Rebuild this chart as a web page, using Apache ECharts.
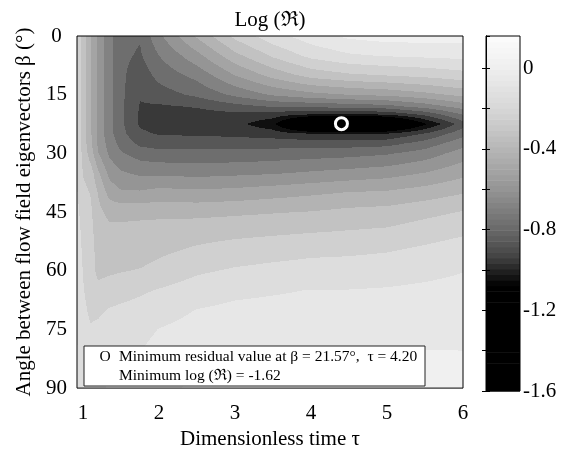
<!DOCTYPE html>
<html><head><meta charset="utf-8">
<script src="https://cdn.jsdelivr.net/npm/echarts@6/dist/echarts.min.js"></script>
<style>html,body{margin:0;padding:0;background:#fff;overflow:hidden}#c{width:567px;height:455px}</style>
</head><body><div id="c"></div>
<script>
// ---- grid nodes (tau = dimensionless time, beta = angle in degrees) ----
const tauNodes  = [0.92, 1.0, 1.1, 1.2, 1.35, 1.5, 1.75, 2.0, 2.5, 3.0, 3.5, 4.0, 4.5, 5.0, 5.5, 6.0];
const betaNodes = [0, 5, 10, 15, 18, 20, 22.5, 25, 27.5, 30, 35, 40, 45, 50, 55, 60, 65, 70, 75, 80, 85, 90];

// ---- log(R) values, one array per tau column, listed along betaNodes ----
const logR_t092 = [-0.22,-0.22,-0.22,-0.22,-0.22,-0.22,-0.22,-0.22,-0.21,-0.21,-0.20,-0.19,-0.17,-0.16,-0.15,-0.14,-0.13,-0.12,-0.11,-0.10,-0.10,-0.10];
const logR_t100 = [-0.33,-0.33,-0.33,-0.33,-0.33,-0.33,-0.33,-0.33,-0.32,-0.31,-0.29,-0.26,-0.24,-0.22,-0.21,-0.20,-0.19,-0.18,-0.17,-0.16,-0.16,-0.16];
const logR_t110 = [-0.45,-0.45,-0.45,-0.45,-0.45,-0.45,-0.45,-0.45,-0.44,-0.42,-0.33,-0.29,-0.27,-0.26,-0.25,-0.25,-0.23,-0.21,-0.19,-0.18,-0.17,-0.17];
const logR_t120 = [-0.57,-0.58,-0.58,-0.58,-0.58,-0.58,-0.58,-0.58,-0.57,-0.55,-0.45,-0.38,-0.35,-0.33,-0.32,-0.31,-0.26,-0.21,-0.18,-0.15,-0.13,-0.12];
const logR_t135 = [-0.70,-0.70,-0.70,-0.70,-0.70,-0.70,-0.70,-0.70,-0.68,-0.66,-0.58,-0.50,-0.40,-0.35,-0.33,-0.30,-0.24,-0.19,-0.15,-0.13,-0.11,-0.10];
const logR_t150 = [-0.80,-0.80,-0.80,-0.80,-0.80,-0.80,-0.80,-0.79,-0.76,-0.72,-0.63,-0.54,-0.40,-0.35,-0.33,-0.29,-0.23,-0.18,-0.14,-0.12,-0.105,-0.09];
const logR_t175 = [-0.81,-0.83,-0.87,-0.90,-0.915,-0.92,-0.92,-0.89,-0.84,-0.77,-0.66,-0.54,-0.40,-0.34,-0.32,-0.28,-0.21,-0.165,-0.13,-0.11,-0.09,-0.075];
const logR_t200 = [-0.66,-0.73,-0.79,-0.86,-0.92,-0.945,-0.95,-0.915,-0.86,-0.79,-0.66,-0.52,-0.40,-0.33,-0.30,-0.26,-0.19,-0.14,-0.105,-0.085,-0.065,-0.045];
const logR_t250 = [-0.45,-0.58,-0.70,-0.80,-0.90,-0.94,-0.955,-0.92,-0.86,-0.79,-0.67,-0.53,-0.40,-0.32,-0.27,-0.21,-0.15,-0.105,-0.08,-0.05,-0.02,0.00];
const logR_t300 = [-0.26,-0.40,-0.55,-0.71,-0.85,-0.93,-0.97,-0.93,-0.86,-0.79,-0.66,-0.52,-0.39,-0.31,-0.245,-0.185,-0.125,-0.09,-0.06,-0.025,0.00,0.02];
const logR_t350 = [-0.14,-0.27,-0.43,-0.63,-0.81,-0.95,-1.06,-0.95,-0.86,-0.78,-0.65,-0.50,-0.38,-0.30,-0.23,-0.17,-0.115,-0.085,-0.055,-0.02,0.005,0.02];
const logR_t400 = [-0.06,-0.17,-0.34,-0.58,-0.80,-0.99,-1.45,-0.99,-0.86,-0.77,-0.63,-0.48,-0.37,-0.29,-0.215,-0.16,-0.105,-0.08,-0.05,-0.018,0.01,0.025];
const logR_t450 = [0.00,-0.12,-0.30,-0.55,-0.78,-1.00,-1.62,-1.00,-0.86,-0.76,-0.61,-0.46,-0.35,-0.28,-0.21,-0.155,-0.105,-0.08,-0.05,-0.02,0.01,0.025];
const logR_t500 = [0.02,-0.10,-0.28,-0.53,-0.76,-0.98,-1.40,-0.99,-0.85,-0.74,-0.59,-0.45,-0.34,-0.27,-0.20,-0.145,-0.10,-0.075,-0.05,-0.02,0.01,0.025];
const logR_t550 = [0.02,-0.09,-0.26,-0.49,-0.69,-0.88,-1.10,-0.90,-0.78,-0.69,-0.55,-0.42,-0.31,-0.24,-0.175,-0.13,-0.09,-0.065,-0.045,-0.02,0.01,0.02];
const logR_t600 = [0.02,-0.08,-0.23,-0.44,-0.60,-0.72,-0.86,-0.76,-0.67,-0.60,-0.49,-0.38,-0.28,-0.21,-0.15,-0.11,-0.08,-0.06,-0.04,-0.02,0.005,0.015];
const logRColumns = [logR_t092, logR_t100, logR_t110, logR_t120, logR_t135, logR_t150, logR_t175, logR_t200,
                     logR_t250, logR_t300, logR_t350, logR_t400, logR_t450, logR_t500, logR_t550, logR_t600];

// ---- minimum marker (as drawn) ----
const minMarker = [4.4, 22.4];

// ---- tick labels ----
const xTickValues = [1, 2, 3, 4, 5, 6];
const yTickValues = [0, 15, 30, 45, 60, 75, 90];
const cbTickLabels = [-1.6, -1.2, -0.8, -0.4, 0];

// ---- colour map (value -> grey level) and contour levels ----
const cmapStops = [0.16, 0.0, -0.2, -0.4, -0.6, -0.8, -0.93, -1.0, -1.06, -1.08, -1.62];
const cmapGray  = [252, 238, 215, 182, 148, 105, 68, 35, 8, 0, 0];
const levelMin = -1.62, levelMax = 0.16, levelCount = 20;
const cbMin = -1.6, cbMax = 0.16, cbStripes = 64;

const FONT = "'Liberation Serif','Times New Roman','DejaVu Serif',serif";

function grayOf(v) {
  if (v >= cmapStops[0]) return cmapGray[0];
  for (let k = 0; k < cmapStops.length - 1; k++) {
    if (v >= cmapStops[k + 1]) {
      const t = (v - cmapStops[k + 1]) / (cmapStops[k] - cmapStops[k + 1]);
      return cmapGray[k + 1] + t * (cmapGray[k] - cmapGray[k + 1]);
    }
  }
  return cmapGray[cmapGray.length - 1];
}
function grayCss(v) { const g = Math.round(grayOf(v)); return 'rgb(' + g + ',' + g + ',' + g + ')'; }
const levelStep = (levelMax - levelMin) / levelCount;
const bandColors = [];
for (let k = 0; k < levelCount; k++) bandColors.push(grayCss(levelMin + (k + 0.5) * levelStep));
function bandColor(v) {
  let k = Math.floor((v - levelMin) / levelStep);
  if (k < 0) k = 0; if (k > levelCount - 1) k = levelCount - 1;
  return bandColors[k];
}

// contour cells: one item per quad of grid nodes
const cellData = [];
for (let j = 0; j < betaNodes.length - 1; j++)
  for (let i = 0; i < tauNodes.length - 1; i++)
    cellData.push([tauNodes[i], betaNodes[j], i, j]);

function renderContourCell(params, api) {
  const i = api.value(2), j = api.value(3);
  const pA = api.coord([tauNodes[i], betaNodes[j]]);
  const pB = api.coord([tauNodes[i + 1], betaNodes[j + 1]]);
  const xa = pA[0], xb = pB[0], ya = pA[1], yb = pB[1];
  const lastX = i === tauNodes.length - 2, lastY = j === betaNodes.length - 2;
  const px0 = Math.ceil(xa - 0.5);
  const px1 = lastX ? Math.floor(xb - 0.5 + 1e-6) : Math.ceil(xb - 0.5) - 1;
  const py0 = Math.ceil(ya - 0.5);
  const py1 = lastY ? Math.floor(yb - 0.5 + 1e-6) : Math.ceil(yb - 0.5) - 1;
  const c = logRColumns;
  const v00 = c[i][j], v10 = c[i + 1][j], v01 = c[i][j + 1], v11 = c[i + 1][j + 1];
  const children = [];
  for (let py = py0; py <= py1; py++) {
    let fy = (py + 0.5 - ya) / (yb - ya); fy = Math.max(0, Math.min(1, fy));
    const vl = v00 + (v01 - v00) * fy, vr = v10 + (v11 - v10) * fy;
    let runStart = px0, runColor = null;
    for (let px = px0; px <= px1 + 1; px++) {
      let col = null;
      if (px <= px1) {
        let fx = (px + 0.5 - xa) / (xb - xa); fx = Math.max(0, Math.min(1, fx));
        col = bandColor(vl + (vr - vl) * fx);
      }
      if (col !== runColor) {
        if (runColor !== null) children.push({ type: 'rect', shape: { x: runStart, y: py, width: px - runStart, height: 1 }, style: { fill: runColor } });
        runStart = px; runColor = col;
      }
    }
  }
  return { type: 'group', children: children };
}

const stripeData = [];
for (let k = 0; k < cbStripes; k++) {
  const lo = cbMin + k * (cbMax - cbMin) / cbStripes, hi = cbMin + (k + 1) * (cbMax - cbMin) / cbStripes;
  stripeData.push([0.5, lo, hi]);
}
function renderStripe(params, api) {
  const lo = api.value(1), hi = api.value(2);
  const p0 = api.coord([0, lo]), p1 = api.coord([1, hi]);
  return { type: 'rect', shape: { x: p0[0], y: p1[1], width: p1[0] - p0[0], height: p0[1] - p1[1] + 0.6 },
           style: { fill: grayCss((lo + hi) / 2) } };
}

const chart = echarts.init(document.getElementById('c'), null, { renderer: 'canvas', width: 567, height: 455 });
const txt = { color: '#000', fontFamily: FONT, fontSize: 21 };
const legendFont = '15.5px ' + FONT;
chart.setOption({
  animation: false,
  backgroundColor: '#fff',
  grid: [
    { left: 77, top: 36, width: 386, height: 355, show: true, borderColor: '#000', borderWidth: 1, backgroundColor: 'transparent', z: 10 },
    { left: 486, top: 36, width: 34, height: 355, show: true, borderColor: '#000', borderWidth: 1, backgroundColor: 'transparent', z: 10 }
  ],
  xAxis: [
    { gridIndex: 0, type: 'value', min: 0.92, max: 6,
      axisLine: { show: false }, axisTick: { show: false }, splitLine: { show: false },
      axisLabel: Object.assign({ margin: 15, customValues: xTickValues,
        formatter: function (v) { return xTickValues.indexOf(Math.round(v * 1000) / 1000) >= 0 ? String(Math.round(v)) : ''; } }, txt),
      name: 'Dimensionless time \u03c4', nameLocation: 'middle', nameGap: 35, nameTextStyle: txt },
    { gridIndex: 1, type: 'value', min: 0, max: 1, show: false }
  ],
  yAxis: [
    { gridIndex: 0, type: 'value', min: 0, max: 90, interval: 15, inverse: true,
      axisLine: { show: false }, axisTick: { show: false }, splitLine: { show: false },
      axisLabel: Object.assign({ margin: 10, formatter: function (v) { return yTickValues.indexOf(v) >= 0 ? (String(v).length < 2 ? String(v) + ' ' : String(v)) : ''; } }, txt),
      name: 'Angle between flow field eigenvectors \u03b2 (\u00b0)', nameLocation: 'middle', nameGap: 39, nameTextStyle: txt },
    { gridIndex: 1, type: 'value', min: cbMin, max: cbMax, interval: 0.2, position: 'right', z: 11,
      axisLine: { show: true, lineStyle: { color: '#000', width: 1 } },
      axisTick: { show: true, inside: true, length: 4, lineStyle: { color: '#000' } },
      splitLine: { show: false }, axisLabel: Object.assign({ margin: 3, showMaxLabel: false, showMinLabel: true,
        formatter: function (v) {
          for (const t of cbTickLabels) if (Math.abs(v - t) < 1e-6) return t === 0 ? '0' : t.toFixed(1);
          return '';
        } }, txt) },
    { gridIndex: 1, type: 'value', min: cbMin, max: cbMax, interval: 0.2, position: 'left', z: 11,
      axisLine: { show: true, lineStyle: { color: '#000', width: 1 } },
      axisTick: { show: true, inside: true, length: 4, lineStyle: { color: '#000' } },
      splitLine: { show: false }, axisLabel: { show: false } }
  ],
  series: [
    { type: 'custom', name: 'logR', xAxisIndex: 0, yAxisIndex: 0, data: cellData, encode: { x: 0, y: 1 },
      renderItem: renderContourCell, silent: true, z: 1, clip: true },
    { type: 'scatter', xAxisIndex: 0, yAxisIndex: 0, data: [minMarker], symbol: 'circle', symbolSize: 12, silent: true, z: 5,
      itemStyle: { color: 'rgba(0,0,0,0)', borderColor: '#ffffff', borderWidth: 3, opacity: 1 } },
    { type: 'custom', name: 'colorbar', xAxisIndex: 1, yAxisIndex: 1, data: stripeData, encode: { x: 0, y: 1 },
      renderItem: renderStripe, silent: true, z: 1 }
  ],
  graphic: [
    { type: 'text', x: 270, y: 20, z: 20, style: { text: 'Log (\u211c)', fill: '#000', font: '21px ' + FONT, textAlign: 'center', textVerticalAlign: 'middle' } },
    { type: 'rect', z: 30, shape: { x: 84, y: 346, width: 341, height: 40 }, style: { fill: '#fff', stroke: '#222', lineWidth: 1 } },
    { type: 'text', z: 31, x: 105, y: 357, style: { text: 'O', fill: '#000', font: legendFont, textAlign: 'center', textVerticalAlign: 'middle' } },
    { type: 'text', z: 31, x: 119, y: 357, style: { text: 'Minimum residual value at \u03b2 = 21.57\u00b0,  \u03c4 = 4.20', fill: '#000', font: legendFont, textAlign: 'left', textVerticalAlign: 'middle' } },
    { type: 'text', z: 31, x: 119, y: 376, style: { text: 'Minimum log (\u211c) = -1.62', fill: '#000', font: legendFont, textAlign: 'left', textVerticalAlign: 'middle' } }
  ]
});
</script>
</body></html>
